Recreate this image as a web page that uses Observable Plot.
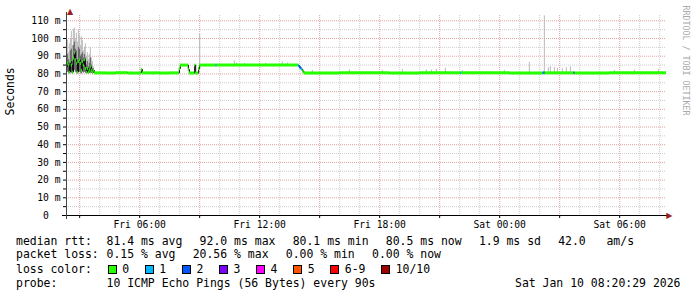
<!DOCTYPE html>
<html><head><meta charset="utf-8">
<script src="https://cdn.jsdelivr.net/npm/d3@7"></script>
<script src="https://cdn.jsdelivr.net/npm/@observablehq/plot@0.6"></script>
<style>
body{margin:0;background:#fff;}
#wrap{position:relative;width:697px;height:297px;overflow:hidden;background:#fff;}
#wrap svg{display:block;}
</style></head><body><div id="wrap"></div>
<script>
// ---------- data ----------
const startTime = "Fri 02:20:29";
const endTime = "Sat 08:20:29";

const medianTimes = [
  "Fri 02:20","Fri 02:23","Fri 02:26","Fri 02:29","Fri 02:32","Fri 02:35","Fri 02:38","Fri 02:41","Fri 02:44","Fri 02:47",
  "Fri 02:50","Fri 02:53","Fri 02:56","Fri 02:59","Fri 03:02","Fri 03:05","Fri 03:08","Fri 03:11","Fri 03:14","Fri 03:17",
  "Fri 03:20","Fri 03:23","Fri 03:26","Fri 03:29","Fri 03:32","Fri 03:35","Fri 03:38","Fri 03:41",
  "Fri 03:44","Fri 04:20","Fri 04:50","Fri 05:25","Fri 06:05","Fri 06:08","Fri 07:00","Fri 07:30",
  "Fri 07:59","Fri 08:02","Fri 08:26","Fri 08:29","Fri 08:45","Fri 08:48","Fri 08:57","Fri 09:00","Fri 09:49","Fri 09:52",
  "Fri 13:56","Fri 13:59","Fri 14:02","Fri 14:05","Fri 14:09","Fri 14:13",
  "Fri 16:00","Fri 18:30","Fri 20:00","Fri 22:03","Fri 22:06",
  "Sat 00:30","Sat 02:10","Sat 02:13","Sat 02:16","Sat 03:43","Sat 03:46","Sat 05:30"
];
const medianValues = [
  84,86,85,81,87,85,81,89,92,88,
  86,81,87,88,86,82,87,85,88,83,
  81,83,81,82,84,82,81,82,
  80.6,80.5,80.7,80.5,82.6,80.6,80.5,80.6,
  83.0,85.0,82.5,80.5,85.0,80.5,83.0,85.0,85.0,85.0,
  84.7,84.0,83.5,82.7,81.5,80.5,
  80.7,80.5,80.6,80.6,80.6,
  80.5,80.6,80.6,80.6,80.6,80.5,80.6
];
const lossCounts = [
  0,0,0,0,0,0,0,0,0,0,
  0,0,0,0,0,0,0,0,0,0,
  0,0,0,0,0,0,0,0,
  0,0,0,0,0,0,0,0,
  0,0,0,0,0,0,0,0,1,0,
  1,2,2,1,0,0,
  0,0,0,1,0,
  0,1,2,0,2,0,0
];

const smokeTimes = [
  "Fri 02:20","Fri 02:23","Fri 02:26","Fri 02:29","Fri 02:32","Fri 02:35","Fri 02:38","Fri 02:41","Fri 02:44","Fri 02:47",
  "Fri 02:50","Fri 02:53","Fri 02:56","Fri 02:59","Fri 03:02","Fri 03:05","Fri 03:08","Fri 03:11","Fri 03:14","Fri 03:17",
  "Fri 03:20","Fri 03:23","Fri 03:26","Fri 03:29","Fri 03:32","Fri 03:35","Fri 03:38","Fri 03:41",
  "Fri 09:00","Fri 10:44","Fri 10:50","Fri 11:14","Fri 12:18","Fri 13:08","Fri 13:23",
  "Fri 14:38","Fri 16:29","Fri 18:08","Fri 19:08","Fri 20:20","Fri 20:35","Fri 20:50","Fri 21:17","Fri 22:08",
  "Sat 00:14","Sat 01:29","Sat 02:14","Sat 02:26","Sat 02:32","Sat 02:44","Sat 02:53","Sat 03:08","Sat 03:20","Sat 03:32",
  "Sat 05:44","Sat 06:44","Sat 07:56"
];
const smokeLow = [
  80.5,81,80.5,80,81,80.5,80,81,82,81,
  80.5,80,81,81,80.5,80,81,80.5,81,80.5,
  80,80.5,80,80.5,80.5,80.3,80.3,80.3,
  85,85,85,85,85,85,85,
  80.5,80.5,80.5,80.5,80.5,80.5,80.5,80.5,80.5,
  80.5,80.5,80.5,80.5,80.5,80.5,80.5,80.5,80.5,80.5,
  80.5,80.5,80.5
];
const smokeMid = [
  88,91,88,86,93,94,87,96,98,94,
  93,88,95,94,90,91,92,89,91,89,
  85,87,84,86,89,85,83,83,
  85,85,85,85,85,85,85,
  80.5,80.5,80.5,80.5,80.5,80.5,80.5,80.5,80.5,
  80.5,80.5,80.5,80.5,80.5,80.5,80.5,80.5,80.5,80.5,
  80.5,80.5,80.5
];
const smokeHigh = [
  95,99,92,97,100,104,96,105,106,100,
  103,98,105,102,96,101,99,93,95,97,
  90,92,88,91,95,89,87,84,
  102.5,87.4,86.2,85.9,86.0,86.8,86.2,
  82.0,82.2,82.0,82.4,82.3,82.2,82.5,83.3,82.0,
  82.0,86.5,112.8,83.5,84.2,83.6,83.3,83.0,83.5,84.0,
  82.0,82.2,82.3
];

const yMajor = [0,10,20,30,40,50,60,70,80,90,100,110];
const yMajorLabels = ["0","10 m","20 m","30 m","40 m","50 m","60 m","70 m","80 m","90 m","100 m","110 m"];
const yMinor = [5,15,25,35,45,55,65,75,85,95,105];
const xTickLabels = ["Fri 06:00","Fri 12:00","Fri 18:00","Sat 00:00","Sat 06:00"];

const lossLevels = ["0","1","2","3","4","5","6-9","10/10"];
const lossColors = ["#26ff00","#00b8ff","#0059ff","#7e00ff","#ff00ff","#ff5500","#ff0000","#a00000"];

const rttLabel = "median rtt:";
const rttItems = ["81.4 ms avg","92.0 ms max","80.1 ms min","80.5 ms now","1.9 ms sd","42.0   am/s"];
const lossLabel = "packet loss:";
const lossItems = ["0.15 % avg","20.56 % max","0.00 % min","0.00 % now"];
const colorLabel = "loss color:";
const probeLabel = "probe:";
const probeText = "10 ICMP Echo Pings (56 Bytes) every 90s";
const stampText = "Sat Jan 10 08:20:29 2026";
const watermark = "RRDTOOL / TOBI OETIKER";
const yTitle = "Seconds";

// ---------- helpers ----------
const parseT = s => {
  const [day, hm] = s.split(" ");
  const [h, m, sec = 0] = hm.split(":").map(Number);
  return new Date(Date.UTC(2026, 0, day === "Fri" ? 9 : 10, h, m, sec));
};
const t0 = parseT(startTime), t1 = parseT(endTime);
const STEP = 3 * 60 * 1000;
const lossColor = n => lossColors[n <= 5 ? n : (n < 10 ? 6 : 7)];

const medianSegs = medianTimes.map((s, i) => ({
  t: parseT(s),
  tEnd: i + 1 < medianTimes.length ? parseT(medianTimes[i + 1]) : t1,
  v: medianValues[i],
  loss: lossCounts[i]
}));
const linePts = medianSegs.map(d => ({t: d.t, v: d.v})).concat([{t: t1, v: medianValues[medianValues.length - 1]}]);
const smoke = smokeTimes.map((s, i) => {
  const t = parseT(s);
  return {t, t2: new Date(+t + STEP), lo: smokeLow[i], mid: smokeMid[i], hi: smokeHigh[i]};
});

const hours = d3.utcHour.range(t0, t1);
const majorHours = hours.filter(d => d.getUTCHours() % 3 === 0);
const minorHours = hours.filter(d => d.getUTCHours() % 3 !== 0);
const xLabelMap = new Map(xTickLabels.map(s => [+parseT(s), s]));
const yLabelMap = new Map(yMajor.map((v, i) => [v, yMajorLabels[i]]));

const MONO = "DejaVu Sans Mono";
const arrowColor = "#9b2020";

const chart = Plot.plot({
  width: 697,
  height: 232,
  marginLeft: 66,
  marginRight: 31,
  marginTop: 15,
  marginBottom: 17,
  style: {fontFamily: MONO, fontSize: "9.7px", color: "#000", background: "#fff", overflow: "visible"},
  x: {type: "utc", domain: [t0, t1], ticks: majorHours, tickSize: 3, tickPadding: 3,
      tickFormat: d => xLabelMap.get(+d) ?? "", label: null},
  y: {domain: [0, 113], ticks: yMajor.concat(yMinor), tickSize: 3, tickPadding: 3,
      tickFormat: d => { const s = yLabelMap.get(d); return s == null ? "" : (s.includes(" ") ? s : s + "\u00a0\u00a0"); },
      label: null},
  color: {type: "identity"},
  marks: [
    Plot.ruleY(yMinor, {stroke: "#cdcdcd", strokeDasharray: "1,1"}),
    Plot.ruleX(minorHours, {stroke: "#cdcdcd", strokeDasharray: "1,1"}),
    Plot.ruleY(yMajor.filter(v => v > 0), {stroke: "#e2a0a0", strokeDasharray: "1,1"}),
    Plot.ruleX(majorHours, {stroke: "#e2a0a0", strokeDasharray: "1,1"}),
    Plot.rect(smoke, {x1: "t", x2: "t2", y1: "lo", y2: "hi", fill: "#b9b9b9", clip: true}),
    Plot.rect(smoke, {x1: "t", x2: "t2", y1: "lo", y2: "mid", fill: "#5e5e5e", clip: true}),
    Plot.line(linePts, {x: "t", y: "v", curve: "step-after", stroke: "#000", strokeWidth: 1, clip: true}),
    Plot.ruleY(medianSegs, {x1: "t", x2: "tEnd", y: "v", stroke: d => lossColor(d.loss), strokeWidth: 3, clip: true}),
    Plot.ruleY([0], {stroke: "#000", insetLeft: -4, insetRight: -2}),
    Plot.ruleX([t0], {stroke: "#444", insetTop: -3, insetBottom: -4}),
    Plot.text(["\u25B2"], {text: d => d, frameAnchor: "top-left", dx: 0.5, dy: -7, fontFamily: "DejaVu Sans", fontSize: 8, fill: arrowColor}),
    Plot.text(["\u25B6"], {text: d => d, frameAnchor: "bottom-right", dx: 6, dy: 2, fontFamily: "DejaVu Sans", fontSize: 8, fill: arrowColor}),
    Plot.text([yTitle], {text: d => d, frameAnchor: "left", rotate: -90, dx: -56, fontFamily: MONO, fontSize: 11.46, fill: "#000"}),
    Plot.text([watermark], {text: d => d, frameAnchor: "top-right", rotate: 90, textAnchor: "start", dx: 22, dy: -10, fontFamily: MONO, fontSize: 8.3, fill: "#aaa"})
  ]
});
document.getElementById("wrap").appendChild(chart);

// ---------- legend (below the SVG chart) ----------
const CW = 6.9, GAP = 17.2, X0 = 16, XV = 106.5, TOP = 232;
const leg = d3.create("svg").attr("width", 697).attr("height", 297 - TOP)
  .style("font-family", MONO).style("font-size", "11.46px");
function addRow(baseline, label, items) {
  leg.append("text").attr("x", X0).attr("y", baseline - TOP).text(label);
  let x = XV;
  for (const it of items) {
    leg.append("text").attr("x", x).attr("y", baseline - TOP).style("white-space", "pre").text(it);
    x += it.length * CW + GAP;
  }
}
addRow(245, rttLabel, rttItems);
addRow(257.7, lossLabel, lossItems);
leg.append("text").attr("x", X0).attr("y", 273 - TOP).text(colorLabel);
{
  let x = 107.7;
  lossLevels.forEach((lab, i) => {
    leg.append("rect").attr("x", Math.round(x) + 0.5).attr("y", 265.5 - TOP).attr("width", 8).attr("height", 8)
      .attr("fill", lossColors[i]).attr("stroke", "#000").attr("stroke-width", 1);
    leg.append("text").attr("x", x + 14.5).attr("y", 273 - TOP).text(lab);
    x += 14.5 + lab.length * CW + 15.7;
  });
}
leg.append("text").attr("x", X0).attr("y", 286.7 - TOP).text(probeLabel);
leg.append("text").attr("x", XV).attr("y", 286.7 - TOP).text(probeText);
leg.append("text").attr("x", 680.5).attr("y", 286.7 - TOP).attr("text-anchor", "end").text(stampText);
document.getElementById("wrap").appendChild(leg.node());
</script>
</body></html>
